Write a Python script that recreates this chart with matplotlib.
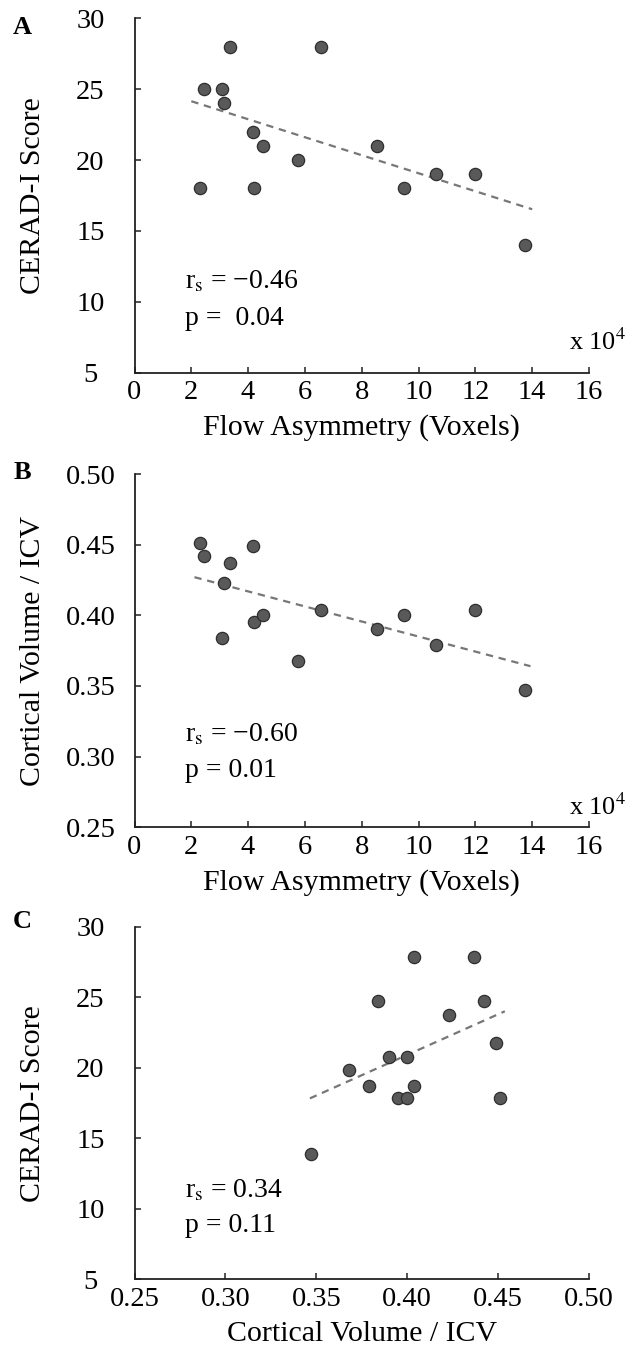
import numpy as np
import matplotlib
matplotlib.use("Agg")
import matplotlib.pyplot as plt

plt.rcParams['font.family'] = ['Liberation Serif', 'DejaVu Serif']
plt.rcParams['mathtext.fontset'] = 'stix'

# data (15 subjects)
flow_asym = [2.30, 2.46, 3.07, 3.14, 3.37, 4.16, 4.19, 4.53, 5.74, 6.56, 8.52, 9.50, 10.63, 11.99, 13.74]  # x 10^4 voxels
cerad = [18, 25, 25, 24, 28, 22, 18, 21, 20, 28, 21, 18, 19, 19, 14]
cv_icv = [0.451, 0.442, 0.384, 0.423, 0.437, 0.449, 0.395, 0.400, 0.368, 0.404, 0.390, 0.400, 0.379, 0.404, 0.347]
cerad_c = [17.85, 24.75, 24.75, 23.75, 27.85, 21.8, 17.85, 20.8, 19.85, 27.85, 20.8, 17.85, 18.75, 18.75, 13.9]

# fitted trend lines (endpoints as drawn)
fit_a_x = [2.0, 14.0]
fit_a_y = [24.15, 16.53]
fit_b_x = [2.11, 13.94]
fit_b_y = [0.427, 0.364]
fit_c_x = [0.3465, 0.4537]
fit_c_y = [17.84, 24.02]

stats_a = ["r$_{\\mathrm{s}}$ = \u22120.46", "p =  0.04"]
stats_b = ["r$_{\\mathrm{s}}$ = \u22120.60", "p = 0.01"]
stats_c = ["r$_{\\mathrm{s}}$ = 0.34", "p = 0.11"]

TICK_FS = 20.5
LAB_FS = 21.5
TXT_FS = 20
W, H = 631, 1357
L, R = 134.5, 589.0
fig = plt.figure(figsize=(W / 100, H / 100), dpi=100)


def make_ax(top_px, bottom_px):
    return fig.add_axes([L / W, 1 - bottom_px / H, (R - L) / W, (bottom_px - top_px) / H])


def style(ax):
    for s in ['top', 'right']:
        ax.spines[s].set_visible(False)
    for s in ['left', 'bottom']:
        ax.spines[s].set_linewidth(1.3)
        ax.spines[s].set_color('#222222')
    ax.tick_params(axis='both', direction='in', length=4, width=1.1, labelsize=TICK_FS, color='#222222')
    ax.tick_params(axis='x', pad=5.5)
    ax.tick_params(axis='y', pad=31.7)
    for t in ax.get_yticklabels():
        t.set_ha('center')


def panel(ax, x, y, fx, fy, stats, ys):
    ax.plot(fx, fy, color='#777777', lw=1.6, dashes=(3.3, 2.6), zorder=2)
    ax.scatter(x, y, s=78, color='#595959', edgecolor='#2e2e2e', linewidths=0.9, zorder=3)
    ax.text(0.112, ys[0], stats[0], transform=ax.transAxes, fontsize=TXT_FS, va='baseline', ha='left')
    ax.text(0.112, ys[1], stats[1], transform=ax.transAxes, fontsize=TXT_FS, va='baseline', ha='left')


def labels(ax, top_px, bottom_px, xlab, ylab):
    fig.text(33 / W, 1 - (top_px + bottom_px) / 2 / H, ylab, rotation=90, fontsize=LAB_FS,
             ha='center', va='center')
    ax.set_xlabel(xlab, fontsize=LAB_FS)
    ax.xaxis.set_label_coords(0.5, -(41.5 / (bottom_px - top_px)))


# Panel A
A_TOP, A_BOT = 18.3, 372.7
ax1 = make_ax(A_TOP, A_BOT)
panel(ax1, flow_asym, cerad, fit_a_x, fit_a_y, stats_a, (0.238, 0.135))
ax1.set_xlim(0, 16)
ax1.set_ylim(5, 30)
ax1.set_xticks(range(0, 17, 2))
ax1.set_yticks(range(5, 31, 5))
style(ax1)
labels(ax1, A_TOP, A_BOT, 'Flow Asymmetry (Voxels)', 'CERAD-I Score')
ax1.text(0.955, 0.064, 'x 10$^{4}$', transform=ax1.transAxes, fontsize=19, va='baseline', ha='left')

# Panel B
B_TOP, B_BOT = 474.0, 827.3
ax2 = make_ax(B_TOP, B_BOT)
panel(ax2, flow_asym, cv_icv, fit_b_x, fit_b_y, stats_b, (0.242, 0.143))
ax2.set_xlim(0, 16)
ax2.set_ylim(0.25, 0.50)
ax2.set_xticks(range(0, 17, 2))
ax2.set_yticks(np.arange(0.25, 0.501, 0.05))
ax2.set_yticklabels([f'{v:.2f}' for v in np.arange(0.25, 0.501, 0.05)])
style(ax2)
labels(ax2, B_TOP, B_BOT, 'Flow Asymmetry (Voxels)', 'Cortical Volume / ICV')
ax2.text(0.955, 0.035, 'x 10$^{4}$', transform=ax2.transAxes, fontsize=19, va='baseline', ha='left')

# Panel C
C_TOP, C_BOT = 927.0, 1279.3
ax3 = make_ax(C_TOP, C_BOT)
panel(ax3, cv_icv, cerad_c, fit_c_x, fit_c_y, stats_c, (0.232, 0.135))
ax3.set_xlim(0.25, 0.50)
ax3.set_ylim(5, 30)
ax3.set_xticks(np.arange(0.25, 0.501, 0.05))
ax3.set_xticklabels([f'{v:.2f}' for v in np.arange(0.25, 0.501, 0.05)])
ax3.set_yticks(range(5, 31, 5))
style(ax3)
labels(ax3, C_TOP, C_BOT, 'Cortical Volume / ICV', 'CERAD-I Score')

# panel letters
for lab, ypx in [('A', 27.5), ('B', 472.5), ('C', 921.0)]:
    fig.text(22.5 / W, 1 - ypx / H, lab, fontsize=19, fontweight='bold', ha='center', va='center')

fig.savefig('out.png', dpi=100)
